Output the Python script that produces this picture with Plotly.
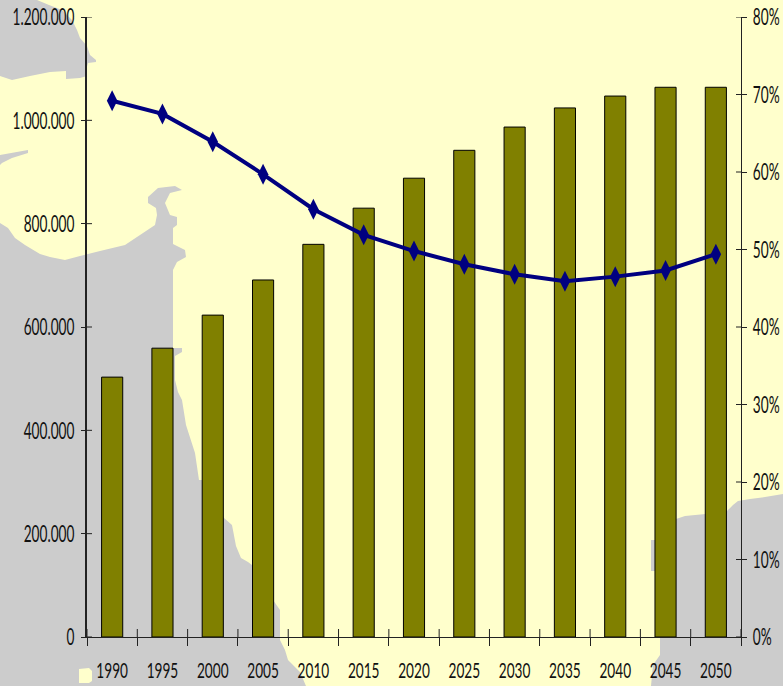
import plotly.graph_objects as go

years = ["1990","1995","2000","2005","2010","2015","2020","2025","2030","2035","2040","2045","2050"]
population = [503000,559000,623000,691000,760000,830000,888000,942000,987000,1024000,1047000,1064000,1064000]
share = [69.2,67.5,63.9,59.7,55.2,51.9,49.8,48.1,46.8,45.9,46.5,47.3,49.4]
left_vals = [0,200000,400000,600000,800000,1000000,1200000]
left_text = ["0","200.000","400.000","600.000","800.000","1.000.000","1.200.000"]
right_vals = [0,10,20,30,40,50,60,70,80]
right_text = ["0%","10%","20%","30%","40%","50%","60%","70%","80%"]

W, H = 783, 686
L, R, T, B = 87, 42, 17, 49
FONT = "Lato"
GRAY = "#CCCCCC"; BG = "#FFFFCC"; AX = "#222222"

def px(pts):
    pw, ph = W-L-R, H-T-B
    s = ""
    for i, (x, y) in enumerate(pts):
        s += ("M" if i == 0 else "L") + f"{(x-L)/pw:.5f},{1-(y-T)/ph:.5f} "
    return s + "Z"

land = [
 [(0,0),(37,0),(49,5),(62,10),(72,20),(77,30),(80,38),(87,46),(90,55),(96,60),(96,62),(88,63),(86,70),(87,76),(80,78),(66,79),(66,71),(50,72),(30,76),(12,80),(0,76)],
 [(0,155),(28,150),(28,153),(12,158),(2,163),(0,165)],
 [(0,223),(8,228),(15,238),(25,245),(40,254),(50,257),(65,260),(80,256),(100,251),(125,245),(140,235),(155,225),(157,215),(156,208),(148,203),(148,197),(158,188),(175,186),(182,190),(170,193),(165,203),(170,215),(177,217),(177,225),(173,228),(173,244),(185,250),(186,257),(177,262),(173,270),(173,348),(182,348),(182,352),(175,356),(175,380),(178,392),(182,400),(186,425),(195,453),(199,480),(202,480),(224,518),(232,525),(236,546),(241,558),(248,562),(252,565),(273,600),(280,610),(280,640),(285,650),(288,660),(293,665),(300,672),(306,686),(0,686)],
 [(660,520),(676,519),(685,516),(726,512),(733,505),(738,501),(750,499),(765,497),(783,494),(783,686),(651,686),(653,665),(660,655)],
 [(651,540),(656,540),(656,571),(651,571)],
]
shapes = [dict(type="path", path=px(p), xref="paper", yref="paper", fillcolor=GRAY, line_width=0, layer="below") for p in land]
shapes.append(dict(type="path", path=px([(79,669),(89,668),(92,671),(92,681),(89,683),(79,683)]), xref="paper", yref="paper", fillcolor=BG, line_width=0, layer="below"))

# inner half of the crossing ticks
for v in left_vals:
    shapes.append(dict(type="line", xref="paper", yref="y", xsizemode="pixel", xanchor=0, x0=0, x1=5, y0=v, y1=v, line=dict(color=AX, width=1)))
for v in right_vals:
    shapes.append(dict(type="line", xref="paper", yref="y2", xsizemode="pixel", xanchor=1, x0=-5, x1=0, y0=v, y1=v, line=dict(color=AX, width=1)))
for k in range(len(years)+1):
    shapes.append(dict(type="line", xref="paper", yref="y", ysizemode="pixel", yanchor=0, x0=k/len(years), x1=k/len(years), y0=0, y1=8, line=dict(color=AX, width=1)))

fig = go.Figure()
fig.add_bar(x=years, y=population, marker=dict(color="#808000", line=dict(color="#000000", width=1)), yaxis="y")
fig.add_scatter(x=years, y=share, mode="lines+markers", yaxis="y2",
                line=dict(color="#000080", width=4),
                marker=dict(symbol="diamond-tall", size=15, color="#000080"))

fig.update_layout(
    width=W, height=H, margin=dict(l=L, r=R, t=T, b=B, pad=0, autoexpand=False), showlegend=False,
    paper_bgcolor=BG, plot_bgcolor="rgba(0,0,0,0)", bargap=0.58, shapes=shapes,
    font=dict(family=FONT, size=24, color="#111111"),
    xaxis=dict(type="category", range=[-0.5, 12.5], tickson="boundaries", ticks="outside", ticklen=8, tickcolor=AX, tickangle=0, automargin=False,
               tickfont=dict(size=22), showline=True, linecolor=AX, showgrid=False, ticklabelstandoff=14, zeroline=False),
    yaxis=dict(range=[0,1200000], tickmode="array", tickvals=left_vals, ticktext=left_text, ticks="outside", ticklen=4, automargin=False,
               tickcolor=AX, showline=True, linecolor=AX, linewidth=1.5, showgrid=False, zeroline=False, ticklabelstandoff=2),
    yaxis2=dict(range=[0,80], overlaying="y", side="right", tickmode="array", tickvals=right_vals, ticktext=right_text, automargin=False,
                ticks="outside", ticklen=5, tickcolor=AX, showline=True, linecolor=AX, showgrid=False, zeroline=False, ticklabelstandoff=1),
)
# The reference uses a condensed face: squeeze the real text horizontally about its anchor.
squeeze = """
document.body.style.margin='0';
document.querySelectorAll('.xtick text, .ytick text, .y2tick text').forEach(function(el){
  var x = parseFloat(el.getAttribute('x')) || 0;
  var t = el.getAttribute('transform') || '';
  var s = el.closest('.xtick') ? 0.62 : 0.57;
  el.setAttribute('transform', t + ' translate(' + x + ',0) scale(' + s + ',1) translate(' + (-x) + ',0)');
});
"""
fig.write_html("out.html", post_script=squeeze, config={"displayModeBar": False})
